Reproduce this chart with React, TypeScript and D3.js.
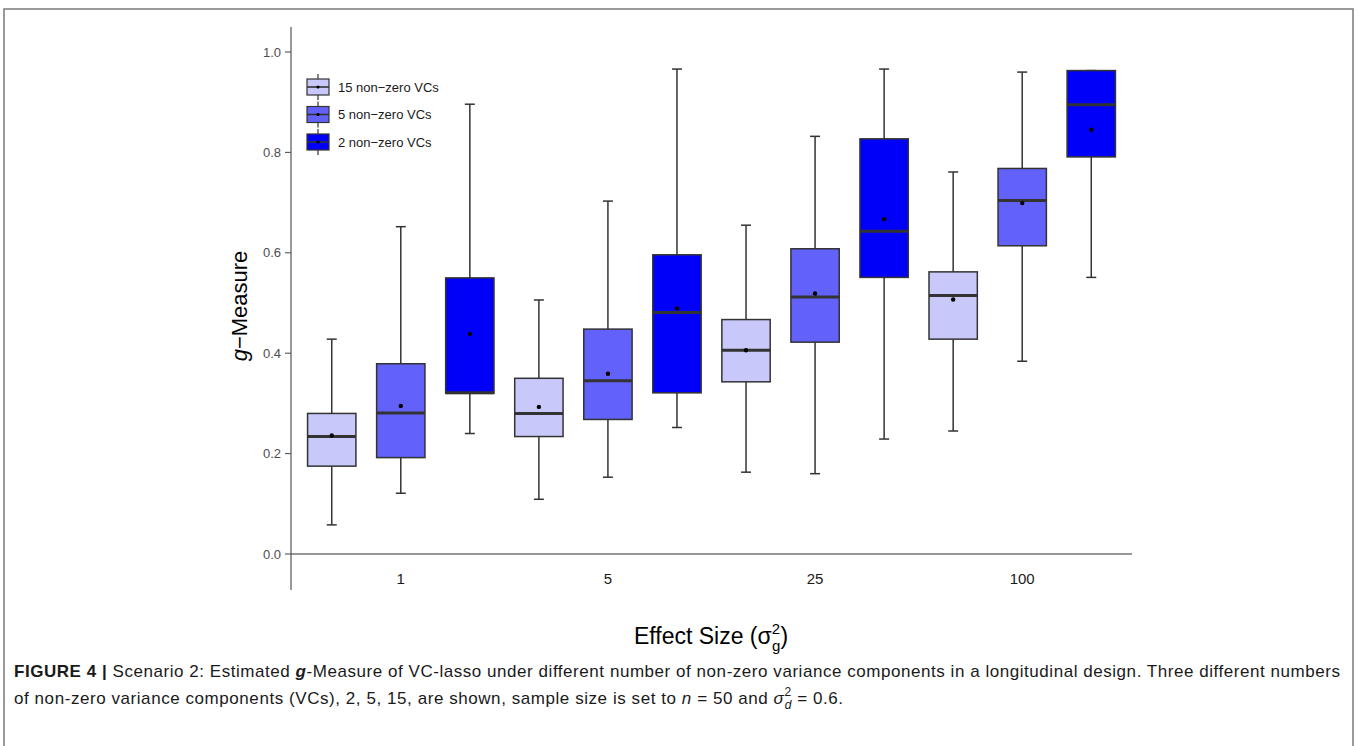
import React from "react";
import * as d3 from "d3";

// effect size categories on the x axis
const categories = ["1", "5", "25", "100"];

// series (number of non-zero VCs), in dodge order
const seriesNames = ["15 non\u2212zero VCs", "5 non\u2212zero VCs", "2 non\u2212zero VCs"];
const seriesColors = ["#c8c8fa", "#6262fa", "#0000fa"];

// box statistics per series, one value per category
const lower15 = [0.058, 0.109, 0.163, 0.245];
const q1_15 = [0.175, 0.234, 0.343, 0.428];
const median15 = [0.234, 0.28, 0.406, 0.515];
const q3_15 = [0.28, 0.35, 0.467, 0.562];
const upper15 = [0.428, 0.506, 0.655, 0.761];
const mean15 = [0.236, 0.293, 0.406, 0.507];

const lower5 = [0.121, 0.153, 0.16, 0.384];
const q1_5 = [0.192, 0.268, 0.422, 0.614];
const median5 = [0.281, 0.345, 0.512, 0.704];
const q3_5 = [0.379, 0.448, 0.608, 0.768];
const upper5 = [0.652, 0.703, 0.832, 0.96];
const mean5 = [0.295, 0.359, 0.519, 0.699];

const lower2 = [0.24, 0.252, 0.229, 0.551];
const q1_2 = [0.32, 0.321, 0.551, 0.791];
const median2 = [0.321, 0.481, 0.643, 0.895];
const q3_2 = [0.55, 0.596, 0.827, 0.963];
const upper2 = [0.896, 0.966, 0.966, 0.963];
const mean2 = [0.438, 0.489, 0.667, 0.845];

const yTicks = [0, 0.2, 0.4, 0.6, 0.8, 1.0];

interface BoxStat {
    lo: number;
    q1: number;
    med: number;
    q3: number;
    hi: number;
    mean: number;
}

const stats: BoxStat[][] = [
    [lower15, q1_15, median15, q3_15, upper15, mean15],
    [lower5, q1_5, median5, q3_5, upper5, mean5],
    [lower2, q1_2, median2, q3_2, upper2, mean2],
].map(([lo, q1, med, q3, hi, mean]) =>
    categories.map((_, i) => ({ lo: lo[i], q1: q1[i], med: med[i], q3: q3[i], hi: hi[i], mean: mean[i] }))
);

const W = 1359;
const H = 746;
const stroke = "#333333";

export default function App() {
    const x = d3.scalePoint<string>().domain(categories).range([291, 1132]).padding(0.53);
    const y = d3.scaleLinear().domain([0, 1]).range([554, 52]);
    const slot = x.step() / 3;
    const boxW = slot * 0.7;
    const capW = 10;

    return (
        <svg
            width={W}
            height={H}
            style={{ position: "absolute", left: 0, top: 0, background: "#fff" }}
            fontFamily="'Liberation Sans', Arial, sans-serif"
        >
            {/* figure frame */}
            <rect x={4} y={9} width={1349} height={760} fill="none" stroke="#7a7a7a" strokeWidth={1.5} />

            {/* y axis */}
            <line x1={291} x2={291} y1={y(1.05)} y2={590} stroke="#555" strokeWidth={1.2} />
            {yTicks.map(t => (
                <g key={t}>
                    <line x1={285} x2={291} y1={y(t)} y2={y(t)} stroke="#555" strokeWidth={1.1} />
                    <text x={281} y={y(t)} dy="0.35em" textAnchor="end" fontSize={13} fill="#4d4d4d">
                        {t.toFixed(1)}
                    </text>
                </g>
            ))}

            {/* zero reference line */}
            <line x1={291} x2={1132} y1={y(0)} y2={y(0)} stroke="#333" strokeWidth={1.2} />

            {/* x labels */}
            {categories.map(c => (
                <text key={c} x={x(c)} y={584} textAnchor="middle" fontSize={15} fill="#1a1a1a">
                    {c}
                </text>
            ))}

            {/* boxes */}
            {stats.map((series, si) =>
                series.map((d, ci) => {
                    const cx = (x(categories[ci]) as number) + (si - 1) * slot;
                    return (
                        <g key={`${si}-${ci}`}>
                            <line x1={cx} x2={cx} y1={y(d.hi)} y2={y(d.q3)} stroke={stroke} strokeWidth={1.5} />
                            <line x1={cx} x2={cx} y1={y(d.q1)} y2={y(d.lo)} stroke={stroke} strokeWidth={1.5} />
                            <line x1={cx - capW / 2} x2={cx + capW / 2} y1={y(d.hi)} y2={y(d.hi)} stroke={stroke} strokeWidth={1.5} />
                            <line x1={cx - capW / 2} x2={cx + capW / 2} y1={y(d.lo)} y2={y(d.lo)} stroke={stroke} strokeWidth={1.5} />
                            <rect
                                x={cx - boxW / 2}
                                y={y(d.q3)}
                                width={boxW}
                                height={y(d.q1) - y(d.q3)}
                                fill={seriesColors[si]}
                                stroke={stroke}
                                strokeWidth={1.5}
                            />
                            <line x1={cx - boxW / 2} x2={cx + boxW / 2} y1={y(d.med)} y2={y(d.med)} stroke={stroke} strokeWidth={3} />
                            <circle cx={cx} cy={y(d.mean)} r={2.2} fill="#000" />
                        </g>
                    );
                })
            )}

            {/* legend */}
            {seriesNames.map((name, i) => {
                const cy = 87 + i * 27.5;
                return (
                    <g key={name}>
                        <line x1={318} x2={318} y1={cy - 13} y2={cy + 13} stroke={stroke} strokeWidth={1.2} />
                        <rect x={307} y={cy - 8} width={22} height={16} fill={seriesColors[i]} stroke={stroke} strokeWidth={1.2} />
                        <line x1={307} x2={329} y1={cy} y2={cy} stroke={stroke} strokeWidth={1.6} />
                        <circle cx={318} cy={cy} r={1.6} fill="#000" />
                        <text x={338} y={cy} dy="0.35em" fontSize={13} fill="#1a1a1a">
                            {name}
                        </text>
                    </g>
                );
            })}

            {/* axis titles */}
            <text transform="translate(247,306) rotate(-90)" textAnchor="middle" fontSize={22} fill="#000">
                <tspan fontStyle="italic">g</tspan>
                <tspan>{"\u2212Measure"}</tspan>
            </text>
            <text x={711} y={644} textAnchor="middle" fontSize={23} fill="#000">
                <tspan>Effect Size (σ</tspan>
                <tspan fontSize={15} dy={-10}>2</tspan>
                <tspan fontSize={15} dx={-8} dy={17}>g</tspan>
                <tspan dy={-7}>)</tspan>
            </text>

            {/* caption */}
            <text x={14} y={677} fontSize={17} fill="#1a1a1a" textLength={1326} lengthAdjust="spacing">
                <tspan fontWeight="bold">FIGURE 4 | </tspan>
                <tspan>Scenario 2: Estimated </tspan>
                <tspan fontWeight="bold" fontStyle="italic">g</tspan>
                <tspan>-Measure of VC-lasso under different number of non-zero variance components in a longitudinal design. Three different numbers</tspan>
            </text>
            <text x={14} y={704} fontSize={17} fill="#1a1a1a" textLength={829} lengthAdjust="spacing">
                <tspan>of non-zero variance components (VCs), 2,  5,  15, are shown, sample size is set to </tspan>
                <tspan fontStyle="italic">n</tspan>
                <tspan>{" = 50 and "}</tspan>
                <tspan fontStyle="italic">σ</tspan>
                <tspan fontSize={12} dy={-8}>2</tspan>
                <tspan fontSize={12} fontStyle="italic" dx={-7} dy={13}>d</tspan>
                <tspan dy={-5}>{" = 0.6."}</tspan>
            </text>
        </svg>
    );
}
